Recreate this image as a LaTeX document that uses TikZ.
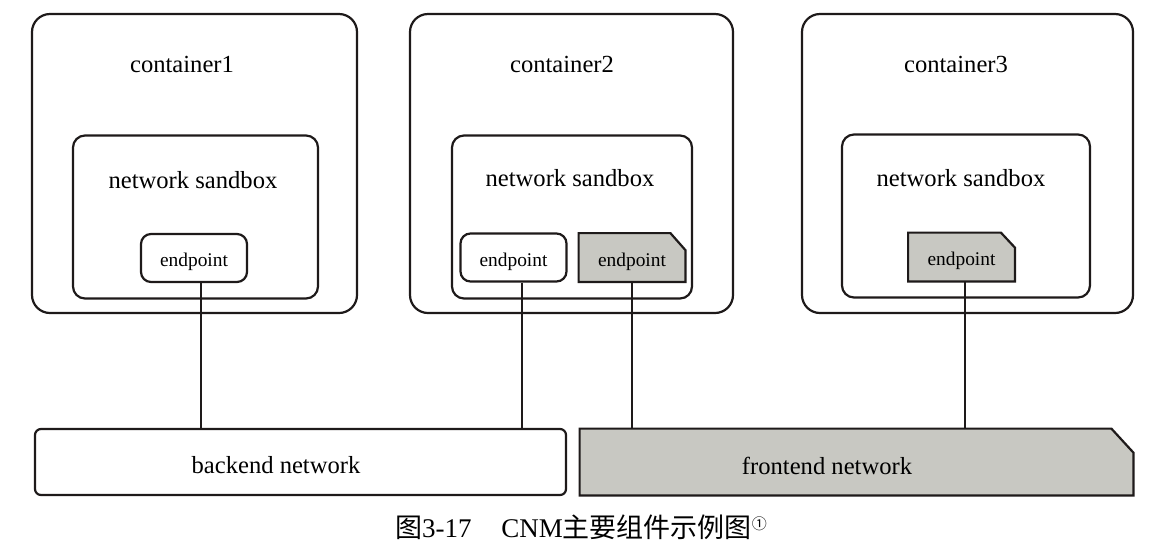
\documentclass[tikz,border=0pt]{standalone}
\usepackage{fontspec}
\setmainfont{Liberation Serif}
\newfontfamily\cjk{Noto Sans CJK SC}
\usetikzlibrary{calc,backgrounds}
\definecolor{boxgray}{RGB}{200,200,194}
\definecolor{ink}{RGB}{30,26,26}
\begin{document}
\begin{tikzpicture}[x=0.5pt,y=-0.5pt,
  outline/.style={draw=ink, line width=1.1pt},
  cbox/.style={outline, rounded corners=9pt, minimum height=149.5pt, inner sep=0pt},
  sbox/.style={outline, rounded corners=6pt, minimum height=81.5pt, inner sep=0pt},
  epfont/.style={font=\fontsize{9.7}{11}\selectfont, text height=8.8pt, text depth=0pt},
  epw/.style={outline, epfont, rounded corners=5pt, minimum width=53pt, minimum height=24pt, inner sep=0pt},
  epg/.style={epfont, minimum width=53pt, minimum height=24pt, inner sep=0pt},
  lbl/.style={font=\fontsize{12.3}{14}\selectfont},
  link/.style={draw=ink, line width=1.1pt}]
\useasboundingbox (0,0) rectangle (1165,553);

% containers
\node[cbox, minimum width=162.5pt] (c1) at (194.5,163.5) {};
\node[cbox, minimum width=161.5pt] (c2) at (571.5,163.5) {};
\node[cbox, minimum width=165.5pt] (c3) at (967.5,163.5) {};
\node[lbl] (c1l) at (182,64) {container1};
\node[lbl] (c2l) at (562,64) {container2};
\node[lbl] (c3l) at (956,64) {container3};

% sandboxes
\node[sbox, minimum width=122.5pt] (s1) at (195.5,217) {};
\node[sbox, minimum width=120pt] (s2) at (572,217) {};
\node[sbox, minimum width=124pt] (s3) at (966,216) {};
\node[lbl] (s1l) at (193,180) {network sandbox};
\node[lbl] (s2l) at (570,178) {network sandbox};
\node[lbl] (s3l) at (961,178) {network sandbox};

% endpoints
\node[epw] (e1) at (194,258) {endpoint};
\node[epw] (e2w) at (513.5,257.5) {endpoint};
\node[epg] (e2g) at (632,257.5) {endpoint};
\node[epg] (e3) at (961.5,257) {endpoint};

% networks
\node[outline, rounded corners=3pt, minimum width=265.5pt, minimum height=33pt, inner sep=0pt] (be) at (300.5,462) {};
\node[minimum width=276.5pt, minimum height=33pt, inner sep=0pt] (fe) at (856.5,462) {};
\node[lbl] (bel) at (276,465) {backend network};
\node[lbl] (fel) at (827,466) {frontend network};

\begin{scope}[on background layer]
  \path[outline, fill=boxgray] (e2g.south west) -- (e2g.north west)
    -- ($(e2g.north east)+(-15,0)$) -- ($(e2g.north east)+(0,17)$)
    -- (e2g.south east) -- cycle;
  \path[outline, fill=boxgray] (e3.south west) -- (e3.north west)
    -- ($(e3.north east)+(-14,0)$) -- ($(e3.north east)+(0,15)$)
    -- (e3.south east) -- cycle;
  \path[outline, fill=boxgray] (fe.south west) -- (fe.north west)
    -- ($(fe.north east)+(-22,0)$) -- ($(fe.north east)+(0,24)$)
    -- (fe.south east) -- cycle;
\end{scope}

% links
\coordinate (t1) at ($(e1.south)+(7,0)$);
\coordinate (t2) at ($(e2w.south)+(8.5,0)$);
\coordinate (t3) at (e2g.south);
\coordinate (t4) at ($(e3.south)+(3.5,0)$);
\draw[link] (t1) -- (t1 |- be.north);
\draw[link] (t2) -- (t2 |- be.north);
\draw[link] (t3) -- (t3 |- fe.north);
\draw[link] (t4) -- (t4 |- fe.north);

% caption
\node[font=\fontsize{13.5}{16}\selectfont] (cap) at (581,527)
  {{\cjk 图}3-17\hspace{1.1em}CNM{\cjk 主要组件示例图}\raisebox{0.6ex}{\fontsize{7.5}{8}\selectfont\cjk ①}};
\end{tikzpicture}
\end{document}
